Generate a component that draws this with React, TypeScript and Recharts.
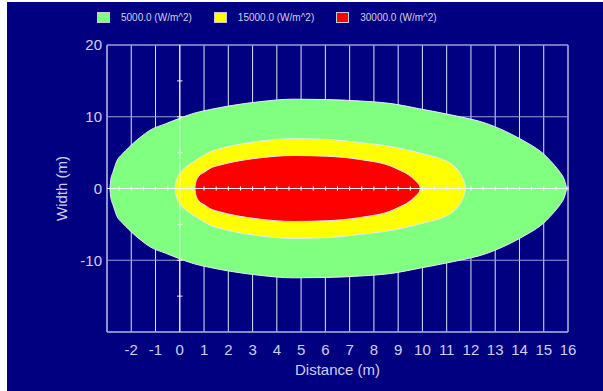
import { ComposedChart, Area, XAxis, YAxis, CartesianGrid, ReferenceLine, ReferenceArea, Legend } from 'recharts'

// contour outlines: distance (m) and half width (m)
const greenX = [-2.88, -2.84, -2.75, -2.61, -2.34, -2.1, -1.92, -1.6, -1.24, -0.6, 0, 0.6, 1.24, 2.2, 3.3, 4.67, 6.04, 7.42, 8.79, 9.89, 11.26, 12.64, 13.32, 14.0, 14.35, 14.7, 15.0, 15.25, 15.45, 15.66, 15.85, 15.95]
const greenW = [0, 1.3, 2.3, 3.7, 4.9, 5.7, 6.3, 7.2, 8.1, 9.0, 9.8, 10.5, 11.0, 11.6, 12.1, 12.45, 12.4, 12.2, 11.8, 11.1, 10.2, 9.06, 8.13, 6.97, 6.3, 5.58, 4.8, 3.95, 3.2, 2.3, 1.2, 0]

const yellowX = [-0.2, -0.15, 0, 0.25, 0.55, 0.9, 1.24, 1.7, 2.2, 3.3, 4.67, 6.04, 7.42, 8.79, 9.89, 10.3, 10.71, 11.26, 11.45, 11.6, 11.72, 11.78]
const yellowW = [0, 1.0, 2.1, 3.0, 3.7, 4.45, 5.1, 5.6, 6.0, 6.6, 6.95, 6.85, 6.4, 5.8, 4.95, 4.6, 4.2, 3.25, 2.6, 1.85, 0.9, 0]

const redX = [0.62, 0.66, 0.82, 1.0, 1.24, 1.7, 2.2, 3.3, 4.67, 6.04, 7.42, 8.79, 9.1, 9.34, 9.55, 9.75, 9.88, 9.92]
const redW = [0, 0.9, 1.85, 2.25, 2.8, 3.3, 3.7, 4.27, 4.6, 4.5, 4.05, 3.0, 2.5, 2.1, 1.6, 0.95, 0.4, 0]

const xTicks = [-2, -1, 0, 1, 2, 3, 4, 5, 6, 7, 8, 9, 10, 11, 12, 13, 14, 15, 16]
const yTicks = [-10, 0, 10, 20]
const axisMarksX = [-2.5, -2, -1.5, -1, -0.5, 0.5, 1, 1.5, 2, 2.5, 3, 3.5, 4, 4.5, 5, 5.5, 6, 6.5, 7, 7.5, 8, 8.5, 9, 9.5, 10, 10.5, 11, 11.5, 12, 12.5, 13, 13.5, 14, 14.5, 15, 15.5, 16]
const axisMarksY = [-15, -10, -5, 5, 10, 15]

const legendNames = ['5000.0 (W/m^2)', '15000.0 (W/m^2)', '30000.0 (W/m^2)']
const legendColors = ['#80ff80', '#ffff00', '#ff0000']

type Row = { x: number; [key: string]: number }

function buildRows() {
  const rows = new Map<number, Row>()
  const add = (key: string, xs: number[], ws: number[]) => {
    xs.forEach((x, i) => {
      const row = rows.get(x) ?? { x }
      row[key + 'U'] = ws[i]
      row[key + 'L'] = -ws[i]
      rows.set(x, row)
    })
  }
  add('g', greenX, greenW)
  add('y', yellowX, yellowW)
  add('r', redX, redW)
  return [...rows.values()].sort((a, b) => a.x - b.x)
}

const data = buildRows()

const navy = '#000080'
const textColor = '#d0d0ee'
const lavender = '#9c9cd8'
const gridWhite = '#e2e2f4'
const font = '"Liberation Sans", Arial, sans-serif'
const edge = '#e8e8ff'

function LegendBox() {
  return (
    <div style={{ display: 'flex', alignItems: 'center', fontFamily: font, fontSize: 10, color: textColor, whiteSpace: 'nowrap' }}>
      {legendNames.map((name, i) => (
        <div key={name} style={{ display: 'flex', alignItems: 'center', marginRight: 22 }}>
          <span style={{ display: 'inline-block', width: 11, height: 9, background: legendColors[i], border: '1px solid #c8c8d8', marginRight: 11 }} />
          <span>{name}</span>
        </div>
      ))}
    </div>
  )
}

export default function App() {
  const tick = { fill: textColor, fontSize: 15, fontFamily: font }
  return (
    <div style={{ position: 'fixed', left: 0, top: 0, width: 603, height: 391, background: '#ffffff' }}>
      <div style={{ position: 'absolute', left: 7, top: 2, width: 596, height: 389, background: navy }}>
        <ComposedChart width={596} height={389} data={data} margin={{ top: 43, right: 35, bottom: 0, left: 0 }}>
          <CartesianGrid horizontal={false} stroke={gridWhite} />
          <CartesianGrid vertical={false} stroke={lavender} />
          <XAxis
            type="number"
            dataKey="x"
            domain={[-3, 16]}
            ticks={xTicks}
            interval={0}
            height={59}
            tick={tick}
            tickLine={false}
            tickSize={0}
            tickMargin={12}
            axisLine={{ stroke: lavender }}
            label={{ value: 'Distance (m)', position: 'insideBottom', offset: 16, fill: textColor, fontSize: 15, fontFamily: font }}
          />
          <YAxis
            type="number"
            domain={[-20, 20]}
            ticks={yTicks}
            interval={0}
            width={100}
            tick={tick}
            tickLine={false}
            tickSize={0}
            tickMargin={5}
            axisLine={{ stroke: lavender }}
            label={{ value: 'Width (m)', angle: -90, position: 'insideLeft', offset: 55, style: { textAnchor: 'middle' }, fill: textColor, fontSize: 15, fontFamily: font }}
          />
          <Legend layout="horizontal" verticalAlign="middle" align="center" wrapperStyle={{ top: 10, left: 90, width: 460 }} content={() => <LegendBox />} />
          <Area dataKey="gU" name={legendNames[0]} type="monotone" fill={legendColors[0]} fillOpacity={1} stroke={edge} strokeWidth={1} connectNulls isAnimationActive={false} />
          <Area dataKey="gL" legendType="none" type="monotone" fill={legendColors[0]} fillOpacity={1} stroke={edge} strokeWidth={1} connectNulls isAnimationActive={false} />
          <Area dataKey="yU" name={legendNames[1]} type="monotone" fill={legendColors[1]} fillOpacity={1} stroke={edge} strokeWidth={1} connectNulls isAnimationActive={false} />
          <Area dataKey="yL" legendType="none" type="monotone" fill={legendColors[1]} fillOpacity={1} stroke={edge} strokeWidth={1} connectNulls isAnimationActive={false} />
          <Area dataKey="rU" name={legendNames[2]} type="monotone" fill={legendColors[2]} fillOpacity={1} stroke={edge} strokeWidth={1} connectNulls isAnimationActive={false} />
          <Area dataKey="rL" legendType="none" type="monotone" fill={legendColors[2]} fillOpacity={1} stroke={edge} strokeWidth={1} connectNulls isAnimationActive={false} />
          <ReferenceArea x1={-3} x2={16} y1={-20} y2={20} fill="none" stroke={lavender} zIndex={600} />
          <ReferenceLine y={0} stroke="#f4f4ff" zIndex={600} />
          <ReferenceLine x={0} stroke="#f4f4ff" zIndex={600} />
          {axisMarksX.map((x) => (
            <ReferenceLine key={'mx' + x} segment={[{ x, y: -0.3 }, { x, y: 0.3 }]} stroke="#f4f4ff" zIndex={600} />
          ))}
          {axisMarksY.map((y) => (
            <ReferenceLine key={'my' + y} segment={[{ x: -0.11, y }, { x: 0.11, y }]} stroke="#f4f4ff" zIndex={600} />
          ))}
        </ComposedChart>
      </div>
    </div>
  )
}
